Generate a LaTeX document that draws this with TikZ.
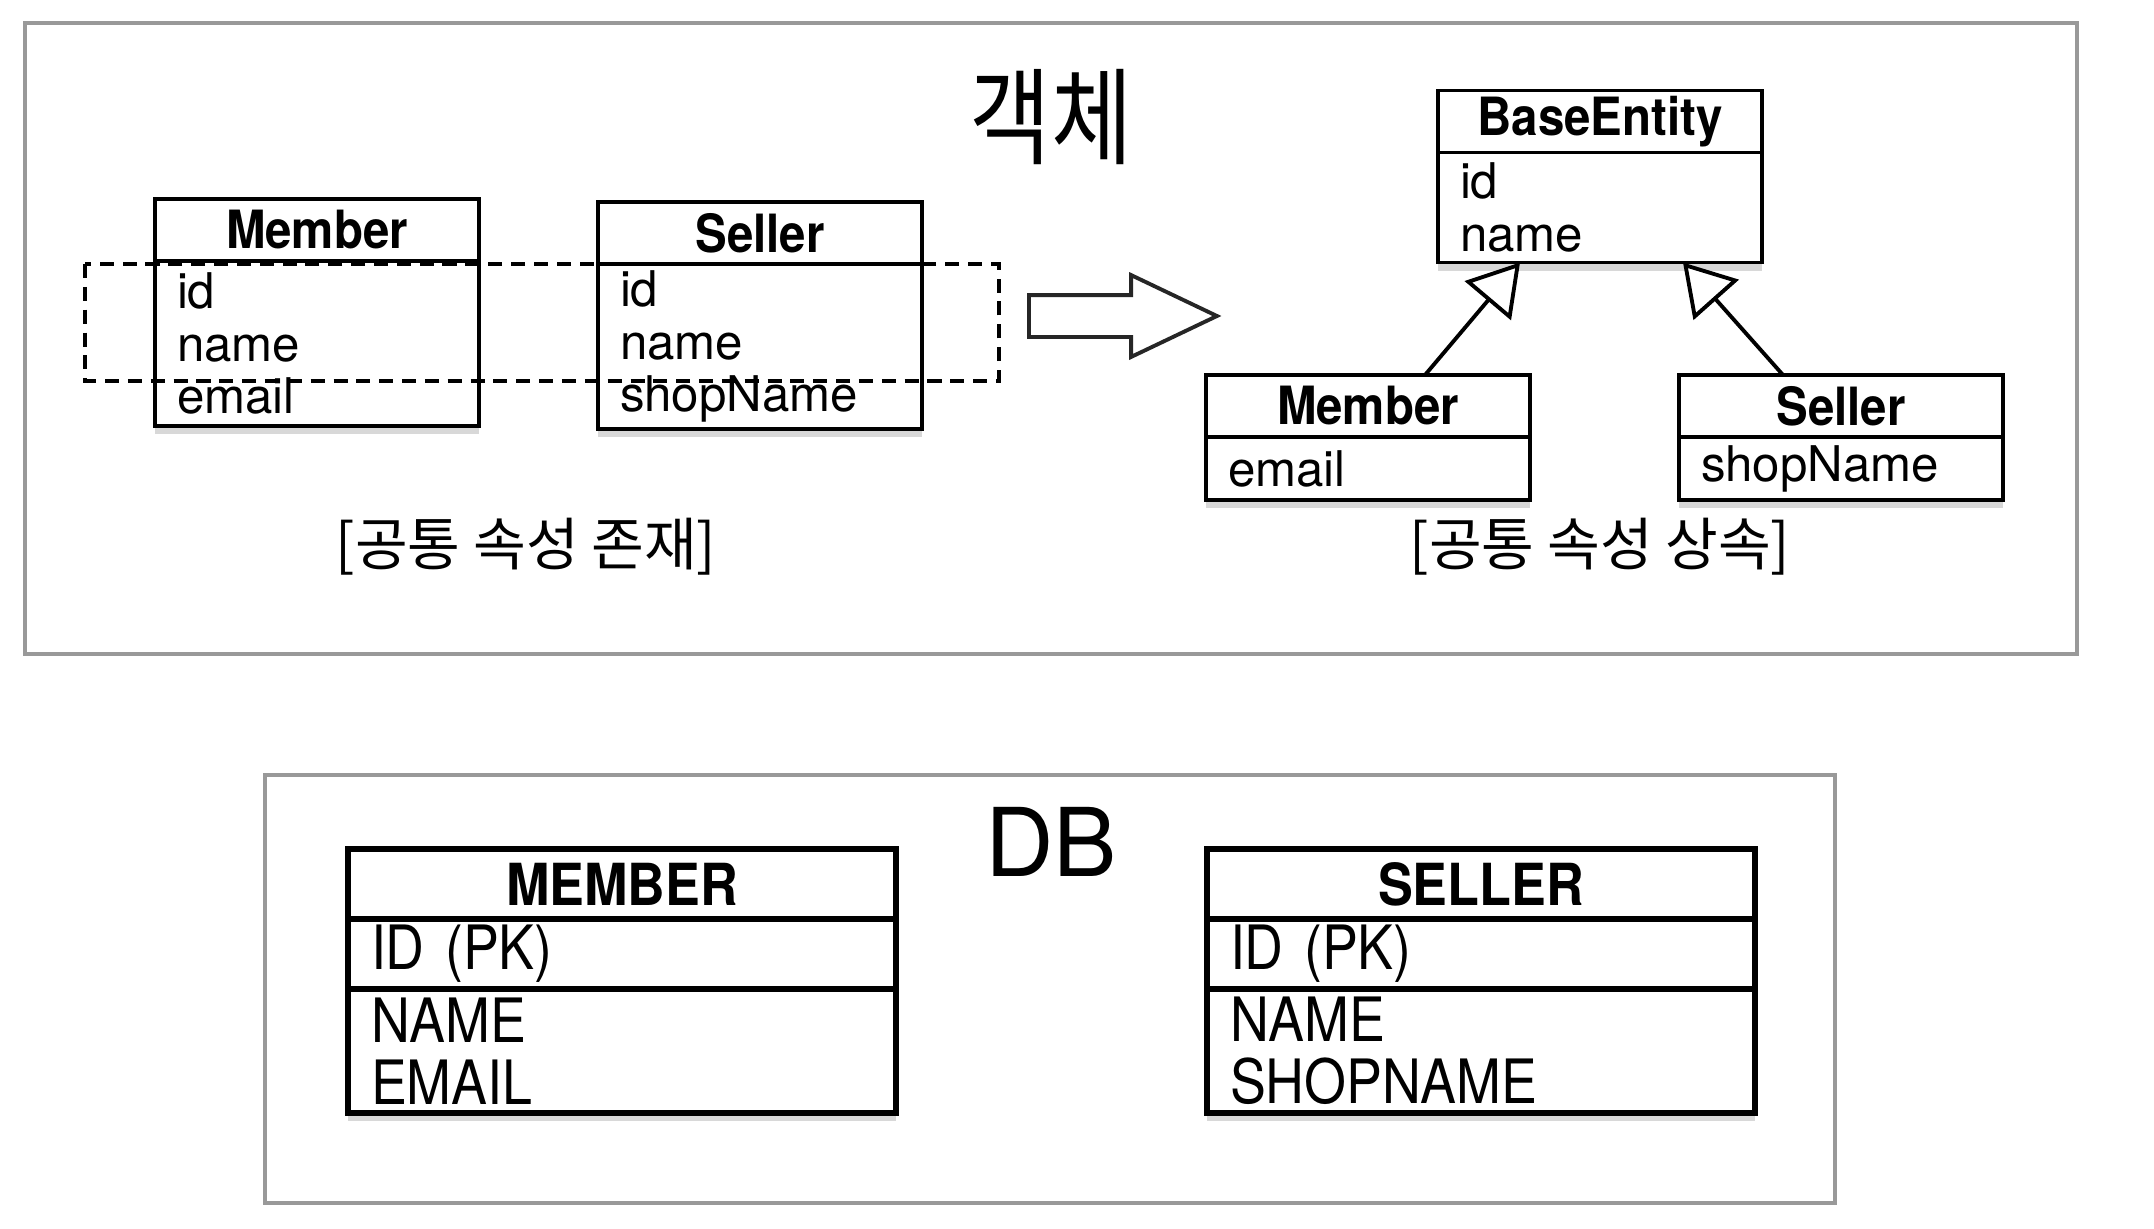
\documentclass[tikz,border=0pt]{standalone}
\usepackage{fontspec}
\setmainfont{TeX Gyre Heros}
\newfontfamily\headfont{TeX Gyre Heros}[FakeStretch=0.9]
\newfontfamily\dbfont{TeX Gyre Heros}[FakeStretch=0.88]
\newfontfamily\kofont{Noto Sans CJK KR}
\newfontfamily\kotitle{Noto Sans CJK KR}[FakeStretch=0.84]
\usetikzlibrary{arrows.meta,positioning,shapes.arrows,shadows}

\begin{document}
\begin{tikzpicture}[
  x=0.1mm, y=-0.1mm,
  frame/.style={draw=black!40, line width=0.9pt},
  boxshadow/.style={drop shadow={shadow xshift=0mm, shadow yshift=-0.8mm, opacity=0.3}},
  clsname/.style={draw, fill=white, line width=1.1pt, outer sep=0pt, boxshadow, minimum width=32.4mm, minimum height=6.2mm, inner sep=0pt, font=\headfont\bfseries\fontsize{15}{18}\selectfont},
  clsattr/.style={draw, fill=white, line width=1.1pt, outer sep=0pt, boxshadow, text width=28mm, inner xsep=2.2mm, inner ysep=0pt, align=left, font=\fontsize{14}{15}\selectfont},
  tblname/.style={draw, fill=white, line width=1.5pt, outer sep=0pt, boxshadow, minimum width=54.8mm, minimum height=7mm, inner sep=0pt, font=\headfont\bfseries\fontsize{16.5}{18}\selectfont},
  tblcol/.style={draw, fill=white, line width=1.5pt, outer sep=0pt, boxshadow, text width=50.2mm, inner xsep=2.3mm, inner ysep=0pt, align=left, font=\dbfont\fontsize{17.4}{17.6}\selectfont},
  caption/.style={font=\kofont\fontsize{16.3}{19}\selectfont},
  heading/.style={font=\kotitle\fontsize{30}{33}\selectfont},
  extends/.style={-{Triangle[open, fill=white, length=5mm, width=6mm]}, line width=1.1pt}
]
\useasboundingbox[fill=white] (0,0) rectangle (2154,1228);

% objects
\draw[frame] (25,23) rectangle (2077,654);
\node[heading] (objtitle) at (1051,117) {객체};

\node[clsname] (mem) at (317,230) {Member};
\node[clsattr, below=0pt of mem, minimum height=16.5mm] (memattr) {id\\name\\email};
\node[clsname] (sel) at (760,233) {Seller};
\node[clsattr, below=0pt of sel, minimum height=16.5mm] (selattr) {id\\name\\shopName};
\draw[line width=1pt, dash pattern=on 4pt off 2.5pt] (85,264) rectangle (999,381);
\node[caption] (leftcap) at (526,547) {[공통 속성 존재]};

\node[single arrow, draw=black!85, line width=1.1pt, anchor=west, minimum height=18.8mm, minimum width=7.8mm,
  single arrow head extend=2mm, single arrow tip angle=51, inner xsep=0pt, inner ysep=1.9mm] (convert) at (1027,316) {};

\node[clsname] (base) at (1600,121.5) {BaseEntity};
\node[clsattr, below=0pt of base, minimum height=11mm] (baseattr) {id\\name};
\node[clsname] (rmem) at (1368,406) {Member};
\node[clsattr, below=0pt of rmem, minimum height=6.3mm] (rmemattr) {email};
\node[clsname] (rsel) at (1841,406) {Seller};
\node[clsattr, below=0pt of rsel, minimum height=6.3mm] (rselattr) {shopName};
\foreach \a/\s/\t in {rmem/5.7/-8, rsel/-5.8/8.3}
  \draw[extends] ([xshift=\s mm]\a.north) -- ([xshift=\t mm]baseattr.south);
\node[caption] (rightcap) at (1600,547) {[공통 속성 상속]};

% tables
\draw[frame] (265,775) rectangle (1835,1203);
\node[font=\fontsize{27}{30}\selectfont] (dbtitle) at (1051,842) {DB};

\node[tblname] (mtbl) at (622,884) {MEMBER};
\node[tblcol, below=0pt of mtbl, minimum height=7mm] (mpk) {ID (PK)};
\node[tblcol, below=0pt of mpk, minimum height=12.4mm] (mcols) {NAME\\EMAIL};
\node[tblname] (stbl) at (1481,884) {SELLER};
\node[tblcol, below=0pt of stbl, minimum height=7mm] (spk) {ID (PK)};
\node[tblcol, below=0pt of spk, minimum height=12.4mm] (scols) {NAME\\SHOPNAME};
\end{tikzpicture}
\end{document}
